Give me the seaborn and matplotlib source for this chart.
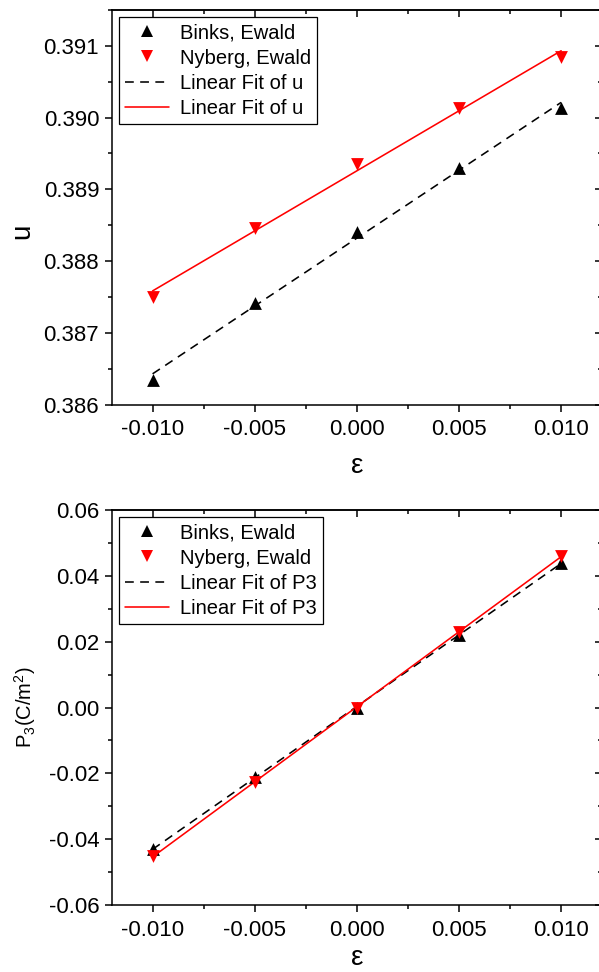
import numpy as np
import pandas as pd
import matplotlib
matplotlib.use("Agg")
import matplotlib.pyplot as plt
from matplotlib.lines import Line2D
from matplotlib.ticker import AutoMinorLocator, MultipleLocator, FormatStrFormatter
import seaborn as sns

# strain values (x) shared by both panels
strain = [-0.010, -0.005, 0.000, 0.005, 0.010]

# internal parameter u
u_binks = [0.38634, 0.38742, 0.38841, 0.38930, 0.39013]
u_nyberg = [0.38750, 0.38846, 0.38935, 0.39013, 0.39085]

# polarization P3 (C/m^2)
p3_binks = [-0.0430, -0.0212, 0.0000, 0.0219, 0.0440]
p3_nyberg = [-0.0452, -0.0226, 0.0000, 0.0228, 0.0461]

series_labels = ["Binks, Ewald", "Nyberg, Ewald"]
fit_labels_u = ["Linear Fit of u", "Linear Fit of u"]
fit_labels_p3 = ["Linear Fit of P3", "Linear Fit of P3"]
x_ticks = [-0.010, -0.005, 0.000, 0.005, 0.010]

sns.set_theme(style="ticks")
plt.rcParams["font.family"] = ["Liberation Sans", "DejaVu Sans"]
plt.rcParams["mathtext.fontset"] = "custom"
plt.rcParams["mathtext.rm"] = "Liberation Sans"
plt.rcParams["axes.linewidth"] = 1.1
for key in ("text.color", "axes.labelcolor", "xtick.color", "ytick.color",
            "axes.edgecolor"):
    plt.rcParams[key] = "black"

RED = "#ff0000"
BLACK = "#000000"
LW = 1.15
DASH = (0, (5.5, 4.0))

fig = plt.figure(figsize=(5.99, 9.72), dpi=100)
ax_top = fig.add_axes([0.1865, 0.5838, 1.005 - 0.1865, 0.9897 - 0.5838])
ax_bot = fig.add_axes([0.1865, 0.0689, 1.005 - 0.1865, 0.4753 - 0.0689])


def draw_panel(ax, y_black, y_red, fit_labels, xlabelpad):
    df = pd.DataFrame({"x": strain, "black": y_black, "red": y_red})
    sns.regplot(data=df, x="x", y="black", ax=ax, scatter=False, ci=None,
                line_kws=dict(color=BLACK, lw=LW, linestyle=DASH))
    sns.regplot(data=df, x="x", y="red", ax=ax, scatter=False, ci=None,
                line_kws=dict(color=RED, lw=LW, linestyle="-"))
    sns.scatterplot(data=df, x="x", y="black", ax=ax, marker="^", color=BLACK,
                    s=85, linewidth=0, zorder=3)
    sns.scatterplot(data=df, x="x", y="red", ax=ax, marker="v", color=RED,
                    s=85, linewidth=0, zorder=3)

    handles = [
        Line2D([], [], ls="none", marker="^", color=BLACK, markersize=9, markeredgewidth=0),
        Line2D([], [], ls="none", marker="v", color=RED, markersize=9, markeredgewidth=0),
        Line2D([], [], color=BLACK, lw=LW, linestyle=DASH),
        Line2D([], [], color=RED, lw=LW),
    ]
    labels = series_labels + fit_labels
    leg = ax.legend(handles, labels, loc="upper left", fontsize=14.5,
                    frameon=True, fancybox=False, edgecolor=BLACK,
                    framealpha=1, handlelength=2.2, handletextpad=0.55,
                    labelspacing=0.32, borderpad=0.3, borderaxespad=0.35)
    leg.get_frame().set_linewidth(0.9)
    for t in leg.get_texts():
        t.set_color(BLACK)

    ax.set_xlim(-0.012, 0.012)
    ax.set_xticks(x_ticks)
    ax.xaxis.set_major_formatter(FormatStrFormatter("%.3f"))
    ax.xaxis.set_minor_locator(AutoMinorLocator(2))
    ax.yaxis.set_minor_locator(AutoMinorLocator(2))
    ax.tick_params(which="major", direction="out", length=5, width=1.1,
                   labelsize=16, pad=4, color=BLACK, labelcolor=BLACK)
    ax.tick_params(which="minor", direction="out", length=3, width=1.1, color=BLACK)
    ax.tick_params(axis="x", which="major", pad=5.5)
    for s in ax.spines.values():
        s.set_color(BLACK)
        s.set_linewidth(1.1)

    # inward ticks on the top and right edges, without labels
    top = ax.secondary_xaxis("top")
    top.set_xticks(x_ticks)
    top.xaxis.set_minor_locator(AutoMinorLocator(2))
    top.tick_params(which="major", direction="in", length=5, width=1.1, labeltop=False)
    top.tick_params(which="minor", direction="in", length=3, width=1.1)
    right = ax.secondary_yaxis("right")
    right.set_yticks(ax.get_yticks())
    right.yaxis.set_minor_locator(AutoMinorLocator(2))
    right.tick_params(which="major", direction="in", length=5, width=1.1, labelright=False)
    right.tick_params(which="minor", direction="in", length=3, width=1.1)
    for sec in (top, right):
        for s in sec.spines.values():
            s.set_linewidth(1.1)
            s.set_color(BLACK)

    ax.set_xlabel("ε", fontsize=20, labelpad=xlabelpad, color=BLACK)


# upper panel: u
ax_top.set_ylim(0.386, 0.3915)
ax_top.yaxis.set_major_locator(MultipleLocator(0.001))
ax_top.yaxis.set_major_formatter(FormatStrFormatter("%.3f"))
draw_panel(ax_top, u_binks, u_nyberg, fit_labels_u, xlabelpad=9)
ax_top.set_ylim(0.386, 0.3915)
ax_top.set_ylabel("u", fontsize=20, color=BLACK)
ax_top.yaxis.set_label_coords(-0.155, 0.44)

# lower panel: P3
ax_bot.set_ylim(-0.06, 0.06)
ax_bot.yaxis.set_major_locator(MultipleLocator(0.02))
ax_bot.yaxis.set_major_formatter(FormatStrFormatter("%.2f"))
draw_panel(ax_bot, p3_binks, p3_nyberg, fit_labels_p3, xlabelpad=3)
ax_bot.set_ylim(-0.06, 0.06)
ax_bot.set_ylabel(r"P$_3$(C/m$^2$)", fontsize=14.5, color=BLACK)
ax_bot.yaxis.set_label_coords(-0.15, 0.5)

fig.savefig("out.png", dpi=100)
